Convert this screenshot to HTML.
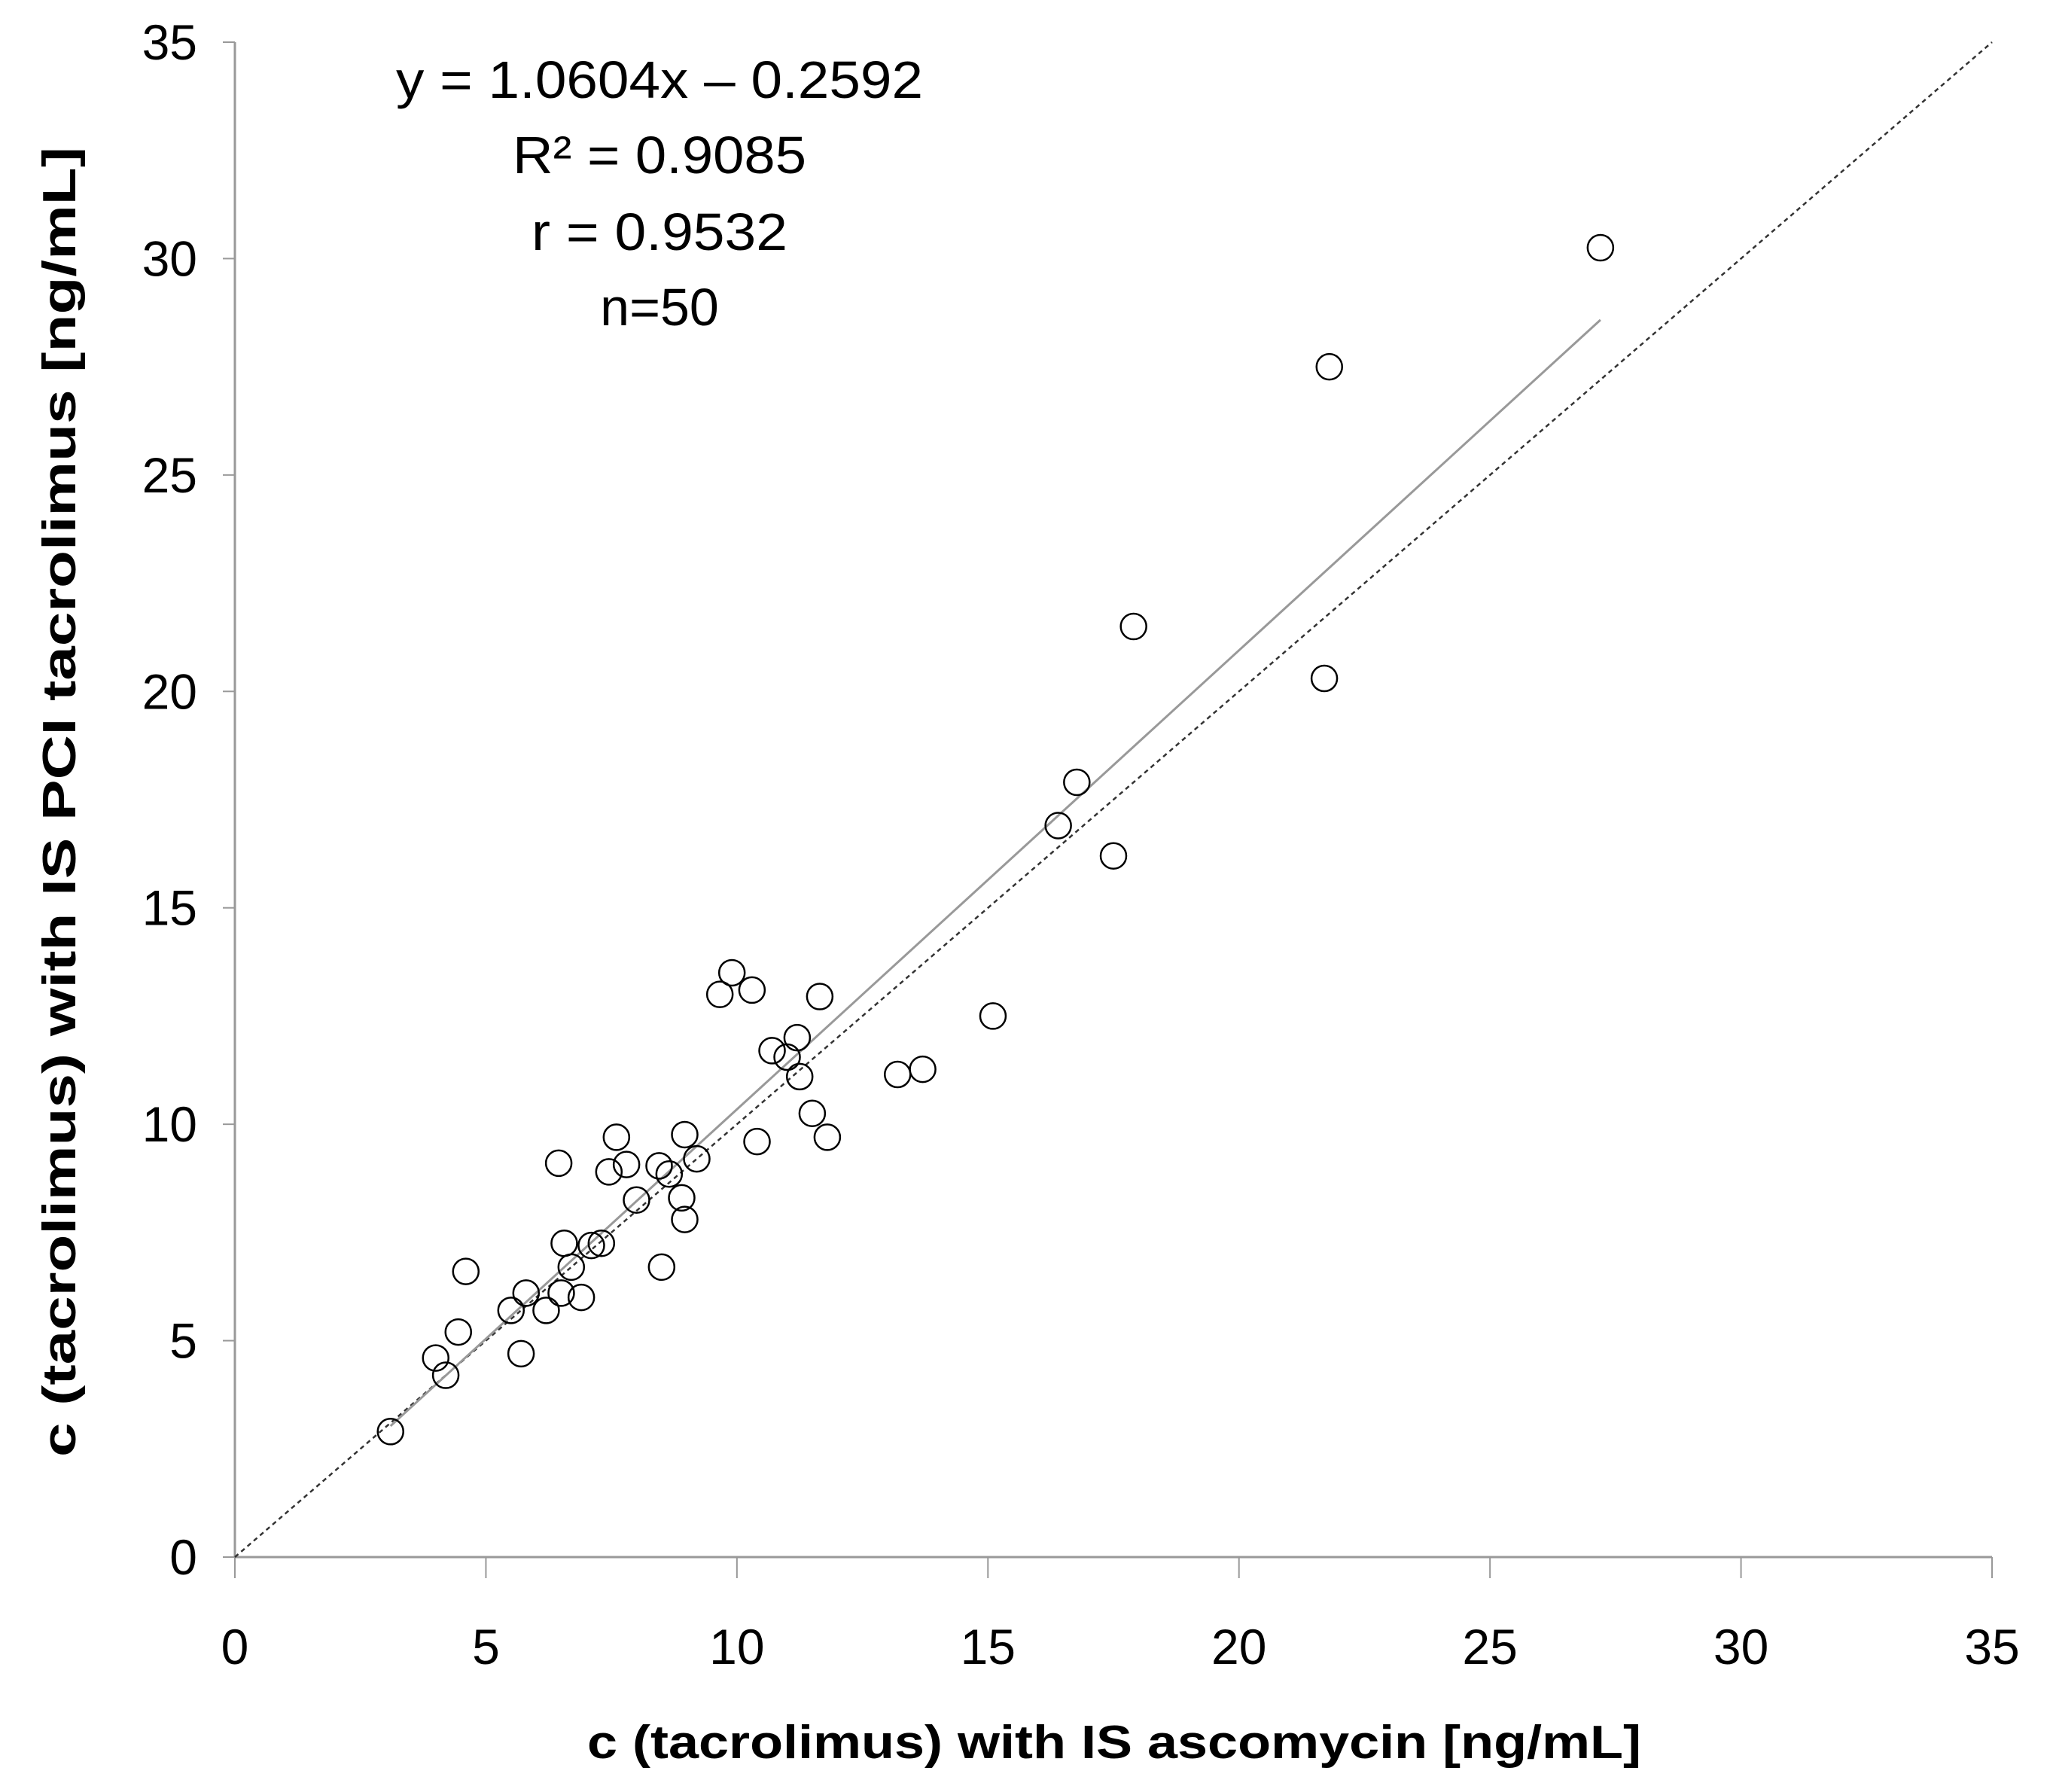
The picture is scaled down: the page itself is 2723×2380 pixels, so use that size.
<!DOCTYPE html>
<html><head><meta charset="utf-8"><style>
html,body{margin:0;padding:0;background:#fff;}
svg text{font-family:"Liberation Sans",sans-serif;fill:#000;}
</style></head><body>
<svg id="chart" width="2723" height="2375" viewBox="0 0 2723 2375" xmlns="http://www.w3.org/2000/svg">
<g id="axes"></g>
<g id="lines"></g>
<g id="points"></g>
<g font-size="70" text-anchor="middle">
<text x="876" y="130" textLength="700" lengthAdjust="spacingAndGlyphs">y = 1.0604x – 0.2592</text>
<text x="876" y="230" textLength="390" lengthAdjust="spacingAndGlyphs">R² = 0.9085</text>
<text x="876" y="332" textLength="340" lengthAdjust="spacingAndGlyphs">r = 0.9532</text>
<text x="876" y="432">n=50</text>
</g>
<text x="1480" y="2335" font-size="62" font-weight="bold" text-anchor="middle" textLength="1400" lengthAdjust="spacingAndGlyphs">c (tacrolimus)  with IS ascomycin [ng/mL]</text>
<text x="0" y="0" font-size="62" font-weight="bold" text-anchor="middle" transform="translate(100,1065) rotate(-90)" textLength="1740" lengthAdjust="spacingAndGlyphs">c (tacrolimus)  with IS PCI tacrolimus [ng/mL]</text>
</svg>
<script>
const xTicks=[0,5,10,15,20,25,30,35];
const yTicks=[0,5,10,15,20,25,30,35];
const xVals=[3.1,4.0,4.2,4.45,4.6,5.5,5.7,5.8,6.2,6.45,6.5,6.56,6.7,6.9,7.1,7.3,7.45,7.6,7.8,8.0,8.45,8.5,8.65,8.9,8.96,8.96,9.2,9.66,9.9,10.3,10.4,10.7,11.0,11.2,11.25,11.5,11.65,11.8,13.2,13.7,15.1,16.4,16.77,17.5,17.9,21.7,21.8,27.2];
const yVals=[2.9,4.6,4.2,5.2,6.6,5.7,4.7,6.1,5.7,9.1,6.1,7.25,6.7,6.0,7.2,7.25,8.9,9.7,9.07,8.25,9.04,6.7,8.85,8.3,7.8,9.76,9.2,13.0,13.5,13.1,9.6,11.7,11.55,12.0,11.1,10.25,12.95,9.7,11.15,11.27,12.5,16.9,17.9,16.2,21.5,20.3,27.5,30.25];
const slope=1.0604, intercept=-0.2592;
const X0=312,X1=2646,Y0=2068,Y1=56;
const sx=v=>X0+(X1-X0)*v/35, sy=v=>Y0-(Y0-Y1)*v/35;
const NS='http://www.w3.org/2000/svg';
function mk(t,a,p){const e=document.createElementNS(NS,t);for(const k in a)e.setAttribute(k,a[k]);p.appendChild(e);return e;}
const axes=document.getElementById('axes');
const xl=mk('line',{x1:X0,y1:Y0,x2:X1,y2:Y0,stroke:'#999','stroke-width':3},axes);


const yl=mk('line',{x1:X0,y1:Y0,x2:X0,y2:Y1,stroke:'#999','stroke-width':3},axes);


xTicks.forEach(t=>{
 const tk=mk('line',{x1:sx(t),y1:Y0,x2:sx(t),y2:Y0+28,stroke:'#999','stroke-width':2},axes);
 
 
 const tx=mk('text',{x:sx(t),y:2210,'font-size':66,'text-anchor':'middle'},axes);tx.textContent=t;
 
 
});
yTicks.forEach(t=>{
 const tk=mk('line',{x1:X0-16,y1:sy(t),x2:X0,y2:sy(t),stroke:'#999','stroke-width':2},axes);
 
 
 const tx=mk('text',{x:262,y:sy(t)+23,'font-size':66,'text-anchor':'end'},axes);tx.textContent=t;
 
 
});
const lines=document.getElementById('lines');
const id=mk('line',{x1:sx(0),y1:sy(0),x2:sx(35),y2:sy(35),stroke:'#333','stroke-width':2.5,'stroke-dasharray':'6,5'},lines);


const xmin=Math.min(...xVals),xmax=Math.max(...xVals);
const rg=mk('line',{x1:sx(xmin),y1:sy(slope*xmin+intercept),x2:sx(xmax),y2:sy(slope*xmax+intercept),stroke:'#999','stroke-width':3},lines);


const pts=document.getElementById('points');
xVals.forEach((x,i)=>{
 const c=mk('circle',{cx:sx(x),cy:sy(yVals[i]),r:17,fill:'none',stroke:'#000','stroke-width':2.5},pts);
 
 
});
</script>
</body></html>
